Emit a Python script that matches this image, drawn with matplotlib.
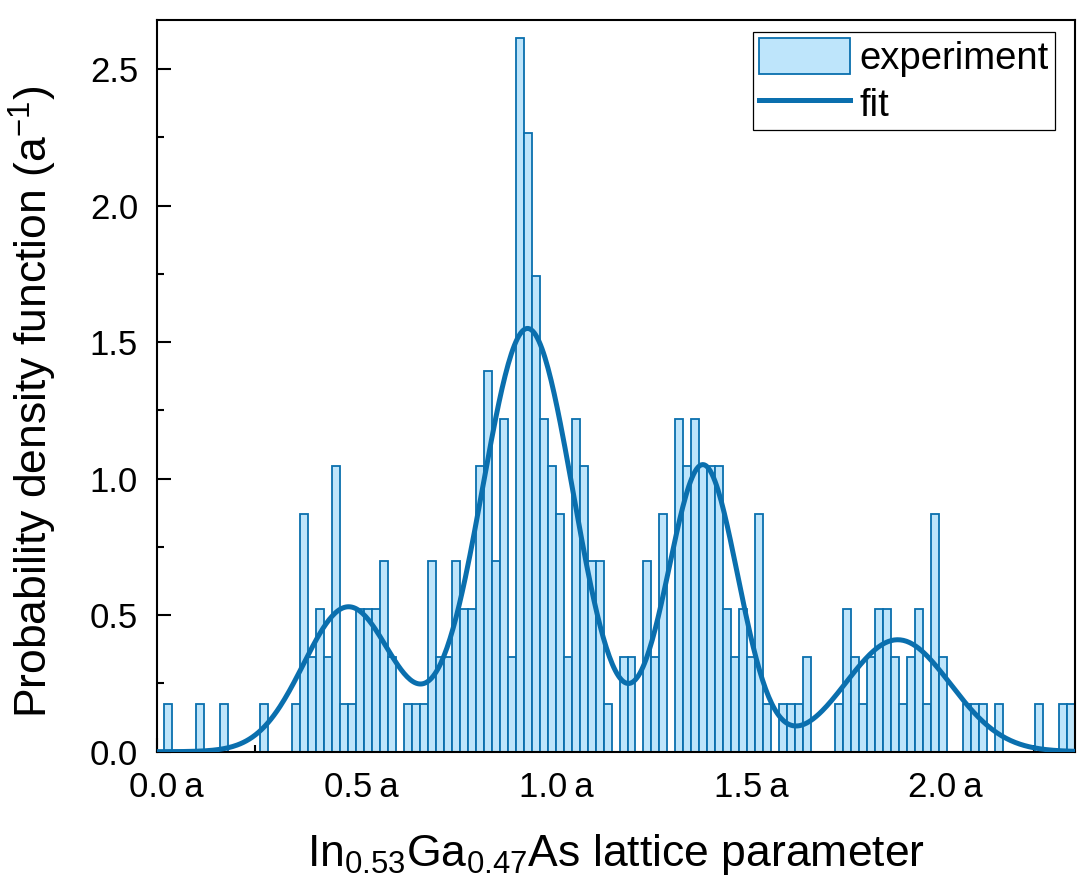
import numpy as np
import matplotlib
matplotlib.use("Agg")
import matplotlib.pyplot as plt
import matplotlib.transforms as mtransforms
from matplotlib.ticker import MultipleLocator, FuncFormatter

plt.rcParams['font.family'] = ['Liberation Sans', 'DejaVu Sans']
plt.rcParams['mathtext.fontset'] = 'custom'
plt.rcParams['mathtext.rm'] = 'Liberation Sans'
plt.rcParams['mathtext.default'] = 'regular'

# histogram (counts per bin)
bin_start = 0.0175
bin_width = 0.0205
counts = [1, 0, 0, 0, 1, 0, 0, 1, 0, 0, 0, 0, 1, 0, 0, 0, 1, 5, 2, 3,
          2, 6, 1, 1, 3, 3, 3, 4, 2, 0, 1, 1, 1, 4, 2, 2, 4, 3, 3, 6,
          8, 4, 7, 2, 15, 13, 10, 7, 6, 5, 2, 7, 6, 4, 4, 1, 0, 2, 2, 0,
          4, 2, 5, 0, 7, 6, 7, 6, 6, 6, 3, 2, 3, 2, 5, 1, 0, 1, 1, 1,
          2, 0, 0, 0, 1, 3, 2, 1, 2, 3, 3, 2, 1, 2, 3, 1, 5, 2, 0, 0,
          1, 1, 1, 0, 1, 0, 0, 0, 0, 1, 0, 0, 1, 1]

# four-gaussian fit (centre, amplitude, sigma)
fit_centers = [0.49, 0.95, 1.40, 1.90]
fit_amps = [0.53, 1.55, 1.05, 0.41]
fit_sigmas = [0.115, 0.118, 0.090, 0.135]

blue = '#0a6fae'
fill = '#bee5fb'

counts = np.array(counts)
edges = bin_start + bin_width * np.arange(len(counts))
density = counts / (counts.sum() * bin_width)
keep = counts > 0

xs = np.linspace(0, 2.355, 600)
ys = np.zeros_like(xs)
for c, a, s in zip(fit_centers, fit_amps, fit_sigmas):
    ys += a * np.exp(-(xs - c) ** 2 / (2 * s ** 2))

fig = plt.figure(figsize=(10.77, 8.86), dpi=100)
ax = fig.add_axes([0.1462, 0.1516, 0.8519, 0.8259])

bars = ax.bar(edges[keep], density[keep], width=bin_width, align='edge',
              color=fill, edgecolor=blue, linewidth=1.3, label='experiment', zorder=2)
line, = ax.plot(xs, ys, color=blue, linewidth=3.6, label='fit', zorder=3)

ax.set_xlim(0, 2.355)
ax.set_ylim(0, 2.68)

ax.xaxis.set_major_locator(MultipleLocator(0.5))
ax.xaxis.set_minor_locator(MultipleLocator(0.25))
ax.yaxis.set_major_locator(MultipleLocator(0.5))
ax.yaxis.set_minor_locator(MultipleLocator(0.25))
ax.xaxis.set_major_formatter(FuncFormatter(lambda v, p: "%.1f\u2009a" % v))
ax.yaxis.set_major_formatter(FuncFormatter(lambda v, p: "%.1f" % v))

ax.tick_params(which='both', direction='in', top=False, right=False, width=1.5)
ax.tick_params(which='major', length=10, labelsize=25, pad=14)
ax.tick_params(which='minor', length=5)
for sp in ax.spines.values():
    sp.set_linewidth(1.5)

# the number sits on the tick, the unit hangs to the right
shift = mtransforms.ScaledTranslation(0.09, 0, fig.dpi_scale_trans)
for lab in ax.get_xticklabels():
    lab.set_transform(lab.get_transform() + shift)

ax.set_xlabel('In$_{0.53}$Ga$_{0.47}$As lattice parameter', fontsize=32, labelpad=20)
ax.set_ylabel('Probability density function (a$^{-1}$)', fontsize=32)
ax.yaxis.set_label_coords(-0.1075, 0.478)

leg = ax.legend([bars, line], ['experiment', 'fit'], loc='upper right',
                bbox_to_anchor=(0.978, 0.9836), borderaxespad=0,
                fontsize=27.5, fancybox=False, edgecolor='black', framealpha=1,
                handlelength=2.4, handleheight=1.1, labelspacing=0.2,
                handletextpad=0.25, borderpad=0.15)
leg.get_frame().set_linewidth(0.9)

fig.savefig('out.png', dpi=100)
